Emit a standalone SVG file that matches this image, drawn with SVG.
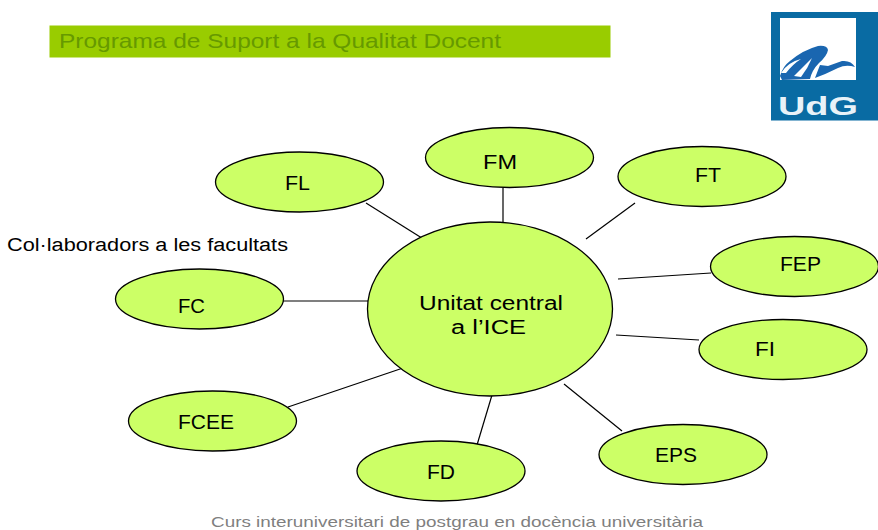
<svg xmlns="http://www.w3.org/2000/svg" width="878" height="530" viewBox="0 0 878 530">
<style>
text{font-family:"Liberation Sans",Arial,sans-serif}
.n ellipse{fill:#ccff66;stroke:#000;stroke-width:1.3}
.n text{font-size:20px;fill:#000}
#connectors line{stroke:#000;stroke-width:1.2}
</style>
<rect width="878" height="530" fill="#fff"/>
<g id="header"><rect x="49.500" y="25.500" width="561" height="32" fill="#99cc00"/>
<text x="59" y="48" font-size="21" fill="#669900" textLength="442" lengthAdjust="spacingAndGlyphs">Programa de Suport a la Qualitat Docent</text></g>
<g id="logo">
<rect x="771" y="12" width="107" height="108.500" fill="#096ba3"/>
<rect x="780" y="18" width="76" height="62" fill="#fff"/>
<path d="M780 76Q783 66 790 61Q803 50 818 46Q827 45 828 50Q827 56 819 63Q812 70 810 79L782 80Z" fill="#1a66b0"/>
<path d="M815 78Q818 70 820 65L828 66L842 61Q851 60 855 67Q846 64 838 68Q826 74 815 78Z" fill="#1a66b0"/>
<path d="M781 73Q788 62 801 59Q793 64 786 73Z" fill="#fff"/>
<path d="M794 76L812 58Q808 68 801 77Z" fill="#fff"/>
<text x="778" y="115" font-size="26" font-weight="bold" fill="#e8f2f8" textLength="80" lengthAdjust="spacingAndGlyphs">UdG</text>
</g>
<g id="connectors">
<line x1="366" y1="203" x2="425" y2="240"/>
<line x1="503" y1="188" x2="503" y2="222"/>
<line x1="635" y1="203" x2="586" y2="239"/>
<line x1="711" y1="273" x2="618" y2="279"/>
<line x1="699" y1="340" x2="616" y2="335"/>
<line x1="622" y1="431" x2="564" y2="384"/>
<line x1="492" y1="395" x2="477" y2="445"/>
<line x1="403" y1="368" x2="288" y2="407"/>
<line x1="283" y1="301" x2="369" y2="301"/>
</g>
<g id="center" class="n"><ellipse cx="490" cy="309" rx="122.500" ry="87"/>
<text x="419" y="310" textLength="144" lengthAdjust="spacingAndGlyphs">Unitat central</text><text x="451" y="334" textLength="75" lengthAdjust="spacingAndGlyphs">a l’ICE</text></g>
<g id="FL" class="n"><ellipse cx="299.500" cy="182" rx="84" ry="30"/><text x="285" y="190" textLength="25" lengthAdjust="spacingAndGlyphs">FL</text></g>
<g id="FM" class="n"><ellipse cx="509.500" cy="157.500" rx="84" ry="30"/><text x="483" y="169" textLength="34" lengthAdjust="spacingAndGlyphs">FM</text></g>
<g id="FT" class="n"><ellipse cx="702" cy="176.500" rx="84" ry="30"/><text x="695" y="182" textLength="26" lengthAdjust="spacingAndGlyphs">FT</text></g>
<g id="FEP" class="n"><ellipse cx="794.500" cy="266.500" rx="84" ry="30"/><text x="780" y="271" textLength="41" lengthAdjust="spacingAndGlyphs">FEP</text></g>
<g id="FI" class="n"><ellipse cx="783" cy="349.500" rx="84" ry="30"/><text x="755" y="356" textLength="20" lengthAdjust="spacingAndGlyphs">FI</text></g>
<g id="EPS" class="n"><ellipse cx="683" cy="454.500" rx="84" ry="30"/><text x="655" y="462" textLength="42" lengthAdjust="spacingAndGlyphs">EPS</text></g>
<g id="FD" class="n"><ellipse cx="441" cy="471" rx="84" ry="30"/><text x="427" y="479" textLength="28" lengthAdjust="spacingAndGlyphs">FD</text></g>
<g id="FCEE" class="n"><ellipse cx="212.500" cy="421" rx="84" ry="30"/><text x="178" y="429" textLength="56" lengthAdjust="spacingAndGlyphs">FCEE</text></g>
<g id="FC" class="n"><ellipse cx="199.500" cy="299" rx="84" ry="30"/><text x="178" y="313" textLength="27" lengthAdjust="spacingAndGlyphs">FC</text></g>
<text x="7" y="251" font-size="18" fill="#000" textLength="281" lengthAdjust="spacingAndGlyphs">Col·laboradors a les facultats</text>
<text x="211" y="527" font-size="15" fill="#7f7f7f" textLength="492" lengthAdjust="spacingAndGlyphs">Curs interuniversitari de postgrau en docència universitària</text>
</svg>
